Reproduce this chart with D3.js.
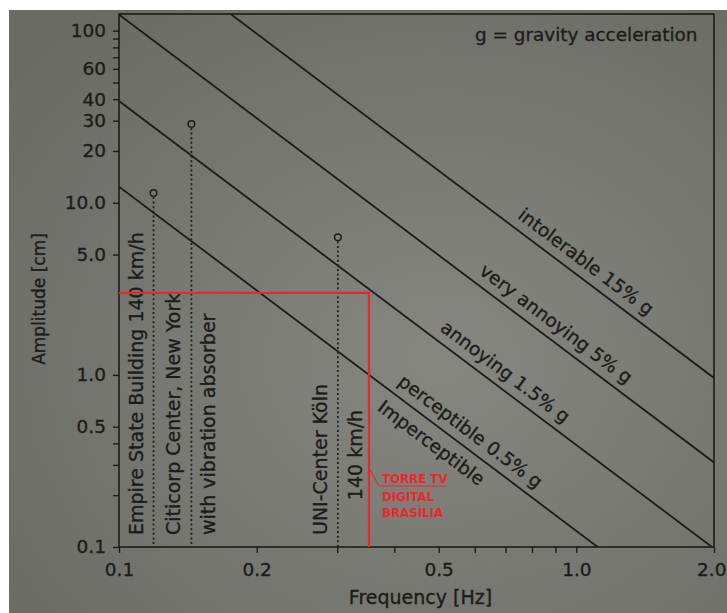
<!DOCTYPE html>
<html>
<head>
<meta charset="utf-8">
<script src="https://cdn.jsdelivr.net/npm/d3@7"></script>
<style>
  html, body { margin: 0; padding: 0; background: #fff; }
  svg { display: block; }
  text { font-family: "DejaVu Sans", Verdana, sans-serif; fill: #1c1c1a; stroke: #1c1c1a; stroke-width: 0.35px; }
</style>
</head>
<body>
<div id="chart"></div>
<script>
// comfort thresholds (lines), read at both ends of the frequency range
const levels = ['0.5% g', '1.5% g', '5% g', '15% g'];
const ampAtLow = [12.4, 39, 124, 385];      // cm at 0.1 Hz
const ampAtHigh = [0.031, 0.098, 0.31, 0.96]; // cm at 2.0 Hz

// zone labels: text, which line they follow, frequency of their centre
const zoneNames = ['Imperceptible', 'perceptible 0.5% g', 'annoying 1.5% g', 'very annoying 5% g', 'intolerable 15% g'];
const zoneLine = [0, 0, 1, 2, 3];
const zoneFreq = [0.482, 0.587, 0.70, 0.904, 1.05];
const zoneBelow = [true, false, false, false, false];

// measured buildings
const buildings = ['Empire State Building 140 km/h', 'Citicorp Center, New York', 'UNI-Center Köln'];
const buildingSub = ['', 'with vibration absorber', '140 km/h'];
const buildingFreq = [0.119, 0.144, 0.301];
const buildingAmp = [11.4, 28.7, 6.3];

// red point
const towerName = ['TORRE TV', 'DIGITAL', 'BRASÍLIA'];
const towerFreq = 0.352;
const towerAmp = 3.0;

// axes
const xTickValues = [0.1, 0.2, 0.3, 0.4, 0.5, 0.6, 0.7, 0.8, 0.9, 1.0, 2.0];
const xLabelValues = [0.1, 0.2, 0.5, 1.0, 2.0];
const xLabelTexts = ['0.1', '0.2', '0.5', '1.0', '2.0'];
const yTickValues = [0.1, 0.2, 0.3, 0.4, 0.5, 1, 5, 10, 20, 30, 40, 50, 60, 70, 80, 90, 100];
const yLabelValues = [0.1, 0.5, 1, 5, 10, 20, 30, 40, 60, 100];
const yLabelTexts = ['0.1', '0.5', '1.0', '5.0', '10.0', '20', '30', '40', '60', '100'];

const W = 727, H = 613, m = { t: 14, r: 13, b: 66, l: 119 };
const ink = '#1c1c1a', red = '#e8282c';

const svg = d3.select('#chart').append('svg').attr('width', W).attr('height', H);

// photo-like paper background
const defs = svg.append('defs');
const grad = defs.append('radialGradient').attr('id', 'paper')
  .attr('cx', '60%').attr('cy', '58%').attr('r', '75%');
grad.append('stop').attr('offset', '0%').attr('stop-color', '#878781');
grad.append('stop').attr('offset', '100%').attr('stop-color', '#6a6b64');
svg.append('rect').attr('width', W).attr('height', H).attr('fill', '#fff');
svg.append('rect').attr('x', 9).attr('y', 10).attr('width', W - 9).attr('height', H - 10).attr('fill', 'url(#paper)');

const x = d3.scaleLog().domain([0.1, 2.0]).range([m.l, W - m.r]);
const y = d3.scaleLog().domain([0.1, 125]).range([H - m.b, m.t]);
const x0 = x.range()[0], x1 = x.range()[1], y0 = y.range()[0], y1 = y.range()[1];

defs.append('clipPath').attr('id', 'plot').append('rect')
  .attr('x', x0).attr('y', y1).attr('width', x1 - x0).attr('height', y0 - y1);

// axes
const fmtX = d => { const i = xLabelValues.indexOf(d); return i < 0 ? '' : xLabelTexts[i]; };
const fmtY = d => { const i = yLabelValues.indexOf(d); return i < 0 ? '' : yLabelTexts[i]; };

const gx = svg.append('g').attr('transform', `translate(0,${y0})`)
  .call(d3.axisBottom(x).tickValues(xTickValues).tickFormat(fmtX).tickSize(6).tickPadding(10));
const gy = svg.append('g').attr('transform', `translate(${x0},0)`)
  .call(d3.axisLeft(y).tickValues(yTickValues).tickFormat(fmtY).tickSize(6).tickPadding(7));
[gx, gy].forEach(g => {
  g.select('.domain').remove();
  g.selectAll('line').attr('stroke', ink).attr('stroke-width', 1.4);
  g.selectAll('text').attr('font-size', 18.5).attr('font-family', '"DejaVu Sans", Verdana, sans-serif').attr('fill', ink);
});
// last x label sits against the photo edge
gx.selectAll('.tick text').filter(d => d === 2.0).attr('text-anchor', 'end').attr('dx', 12);

// frame
svg.append('rect').attr('x', x0).attr('y', y1).attr('width', x1 - x0).attr('height', y0 - y1)
  .attr('fill', 'none').attr('stroke', ink).attr('stroke-width', 1.6);

// threshold lines
const plot = svg.append('g').attr('clip-path', 'url(#plot)');
levels.forEach((lv, i) => {
  plot.append('line')
    .attr('x1', x(0.1)).attr('y1', y(ampAtLow[i]))
    .attr('x2', x(2.0)).attr('y2', y(ampAtHigh[i]))
    .attr('stroke', ink).attr('stroke-width', 1.8);
});

// amplitude on a threshold line at frequency f (straight in log-log)
function lineAmp(i, f) {
  const t = Math.log(f / 0.1) / Math.log(2.0 / 0.1);
  return Math.exp(Math.log(ampAtLow[i]) + t * (Math.log(ampAtHigh[i]) - Math.log(ampAtLow[i])));
}
const angle = Math.atan2(y(ampAtHigh[0]) - y(ampAtLow[0]), x(2.0) - x(0.1)) * 180 / Math.PI;

zoneNames.forEach((name, i) => {
  const px = x(zoneFreq[i]);
  const py = y(lineAmp(zoneLine[i], zoneFreq[i])) + (zoneBelow[i] ? 21 : -20);
  svg.append('text')
    .attr('transform', `translate(${px},${py}) rotate(${angle})`)
    .attr('text-anchor', 'middle').attr('dominant-baseline', 'central')
    .attr('font-size', 18.5).text(name);
});

// buildings: circle + dotted drop line + vertical captions
buildings.forEach((name, i) => {
  const bx = x(buildingFreq[i]), by = y(buildingAmp[i]);
  svg.append('line').attr('x1', bx).attr('x2', bx).attr('y1', by + 4).attr('y2', y0)
    .attr('stroke', ink).attr('stroke-width', 1.7).attr('stroke-dasharray', '2,2.6');
  svg.append('circle').attr('cx', bx).attr('cy', by).attr('r', 3.3)
    .attr('fill', 'none').attr('stroke', ink).attr('stroke-width', 1.5);
  const bottom = y0 - 12;
  svg.append('text')
    .attr('transform', `translate(${bx - 18},${bottom}) rotate(-90)`)
    .attr('dominant-baseline', 'central').attr('font-size', 19).text(name);
  if (buildingSub[i]) {
    const centred = i === 2;
    const cy = centred ? bottom - 80 : bottom;
    svg.append('text')
      .attr('transform', `translate(${bx + 17},${cy}) rotate(-90)`)
      .attr('text-anchor', centred ? 'middle' : 'start')
      .attr('dominant-baseline', 'central').attr('font-size', 19).text(buildingSub[i]);
  }
});

// red marker for the tower
const rx = x(towerFreq), ry = y(towerAmp);
svg.append('path')
  .attr('d', `M${x0},${ry}H${rx}V${y0}`)
  .attr('fill', 'none').attr('stroke', red).attr('stroke-width', 2.2);
const ay = y0 - 79;
svg.append('path')
  .attr('d', `M${rx},${ay}L${rx + 10},${ay + 18}H${rx + 78}`)
  .attr('fill', 'none').attr('stroke', red).attr('stroke-width', 1.2);
towerName.forEach((t, i) => {
  svg.append('text').attr('x', rx + 13).attr('y', ay + 15 + [0, 18, 34][i])
    .attr('font-family', '"DejaVu Sans Condensed", "DejaVu Sans", sans-serif')
    .attr('font-weight', 'bold').attr('font-size', 11.8)
    .style('fill', red).style('stroke', 'none').text(t);
});

// legend note and axis titles
svg.append('text').attr('x', 475).attr('y', 41).attr('font-size', 18.4).text('g = gravity acceleration');
svg.append('text').attr('x', (x0 + x1) / 2 + 4).attr('y', 604)
  .attr('text-anchor', 'middle').attr('font-size', 19).text('Frequency [Hz]');
svg.append('text').attr('transform', `translate(39,299) rotate(-90)`)
  .attr('text-anchor', 'middle').attr('dominant-baseline', 'central')
  .attr('font-size', 17).text('Amplitude [cm]');
</script>
</body>
</html>
